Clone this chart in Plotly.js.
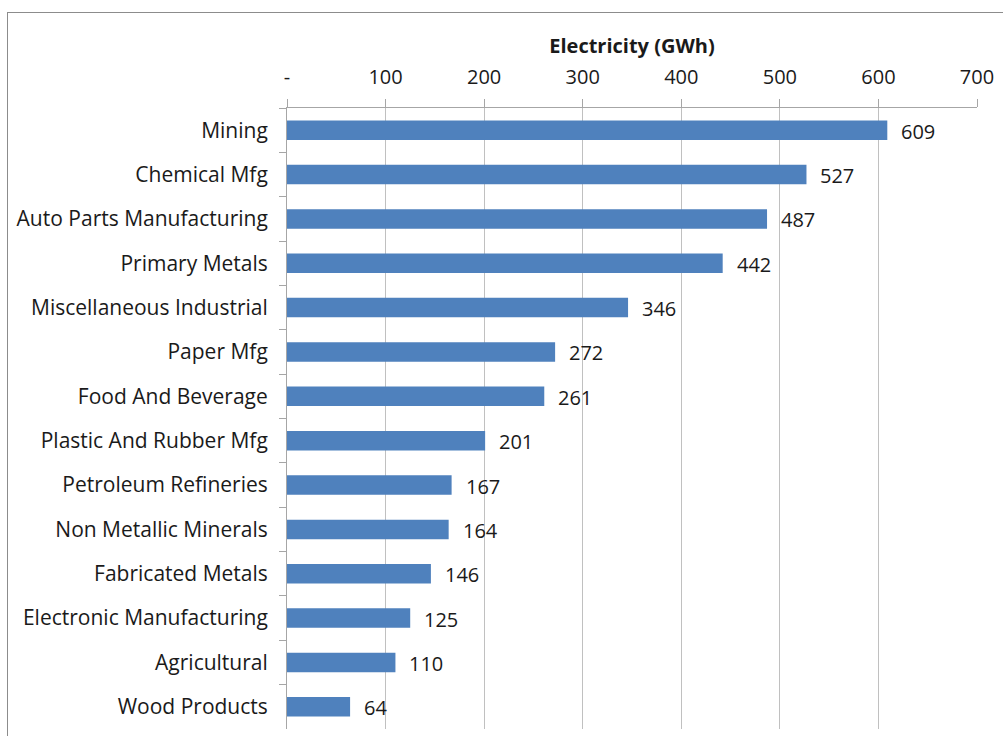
<!DOCTYPE html>
<html>
<head>
<meta charset="utf-8">
<script src="https://cdn.plot.ly/plotly-3.0.1.min.js"></script>
<style>
  html, body { margin: 0; padding: 0; background: #ffffff; }
  #chart { position: absolute; left: 0; top: 0; width: 1003px; height: 736px; }
  #frame { position: absolute; left: 7px; top: 12px; right: 0; bottom: 0;
           border-left: 1px solid #8c8c8c; border-top: 1px solid #8c8c8c; pointer-events: none; }
</style>
</head>
<body>
<div id="chart"></div>
<div id="frame"></div>
<script>
// Electricity consumption by industrial sector, largest first
const sectors = [
  "Mining", "Chemical Mfg", "Auto Parts Manufacturing", "Primary Metals",
  "Miscellaneous Industrial", "Paper Mfg", "Food And Beverage",
  "Plastic And Rubber Mfg", "Petroleum Refineries", "Non Metallic Minerals",
  "Fabricated Metals", "Electronic Manufacturing", "Agricultural", "Wood Products"
];
const electricityGWh = [609, 527, 487, 442, 346, 272, 261, 201, 167, 164, 146, 125, 110, 64];

const tickValues = [0, 100, 200, 300, 400, 500, 600, 700];
const tickLabels = ["-", "100", "200", "300", "400", "500", "600", "700"];

const font = "'Open Sans', 'Noto Sans', sans-serif";
const textColor = "#1a1a1a";

const bars = {
  type: "bar",
  orientation: "h",
  x: electricityGWh,
  y: sectors,
  marker: { color: "#4f81bd" },
  hoverinfo: "x+y"
};

// value labels sit just past the end of each bar
const valueLabels = sectors.map((s, i) => ({
  x: electricityGWh[i], y: s, xref: "x", yref: "y",
  text: String(electricityGWh[i]), showarrow: false,
  xanchor: "left", xshift: 12, yshift: -1,
  font: { family: font, size: 20, color: textColor }
}));

const layout = {
  width: 1003, height: 736,
  margin: { l: 287, r: 26, t: 108, b: 7, pad: 0 },
  paper_bgcolor: "#ffffff", plot_bgcolor: "#ffffff",
  showlegend: false,
  bargap: 0.56,
  font: { family: font, size: 20, color: textColor },
  title: {
    text: "<b>Electricity (GWh)</b>",
    font: { family: font, size: 20, color: textColor },
    xref: "paper", x: 0.5, xanchor: "center",
    yref: "container", y: 1 - 46 / 736, yanchor: "middle"
  },
  xaxis: {
    side: "top", range: [0, 700],
    tickmode: "array", tickvals: tickValues, ticktext: tickLabels,
    showgrid: true, gridcolor: "#c0c0c0", gridwidth: 1,
    ticks: "outside", ticklen: 8, tickcolor: "#a6a6a6",
    showline: true, linecolor: "#a6a6a6", linewidth: 1,
    zeroline: false, fixedrange: true,
    ticklabelstandoff: 7,
    tickfont: { family: font, size: 20, color: textColor }
  },
  yaxis: {
    type: "category", autorange: "reversed",
    tickson: "boundaries", ticks: "outside", ticklen: 7, tickcolor: "#a6a6a6",
    showline: true, linecolor: "#a6a6a6", linewidth: 1,
    showgrid: false, zeroline: false, fixedrange: true,
    ticklabelstandoff: 14,
    tickfont: { family: font, size: 21, color: textColor }
  },
  annotations: valueLabels
};

Plotly.newPlot("chart", [bars], layout, { displayModeBar: false, staticPlot: true });
</script>
</body>
</html>
